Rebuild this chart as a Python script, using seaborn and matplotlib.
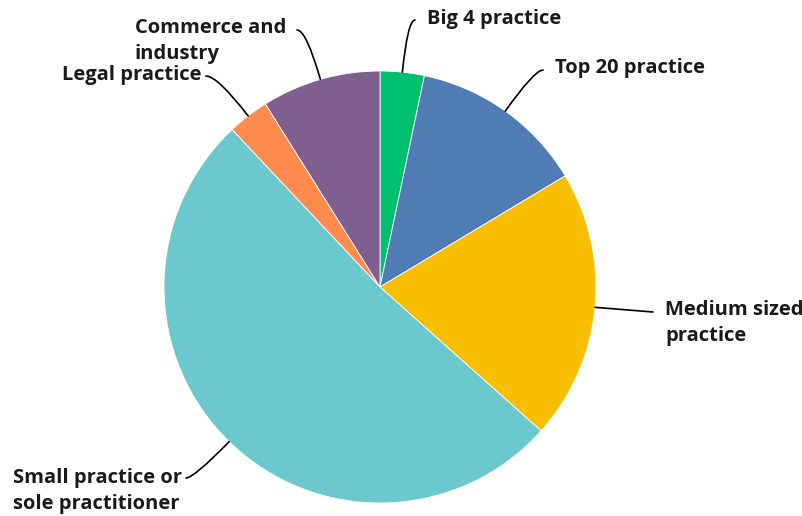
import numpy as np
import matplotlib
matplotlib.use("Agg")
import matplotlib.pyplot as plt
import seaborn as sns

# Share of respondents by place of work (%)
categories = ["Big 4 practice", "Top 20 practice", "Medium sized\npractice",
              "Small practice or\nsole practitioner", "Legal practice",
              "Commerce and\nindustry"]
shares = [3.3, 13.1, 20.2, 51.4, 3.1, 8.9]
colors = ["#00BF6F", "#507CB6", "#F9BE00", "#6BC8CD", "#FF8B4F", "#7F5F90"]

sns.set_theme(style="white")
plt.rcParams["font.family"] = ["Open Sans", "DejaVu Sans"]

W, H = 803, 516
fig = plt.figure(figsize=(W / 100, H / 100), dpi=100)
ax = fig.add_axes([0, 0, 1, 1])

cx, cy, r = 380, H - 287, 216
ax.pie(shares, colors=colors, startangle=90, counterclock=False,
       center=(cx, cy), radius=r, frame=True,
       wedgeprops=dict(edgecolor="white", linewidth=0.6))
ax.set_xlim(0, W)
ax.set_ylim(0, H)
ax.set_aspect("equal")
ax.axis("off")

FS = 14.5
TXT = dict(fontsize=FS, fontweight="bold", color="#1a1a1a", va="center")

# label layout: (line end x, line end y, text x, text y, ha, hooked leader)
layout = [
    (415, 20, 427, 19, "left", True),
    (543, 70, 555, 68, "left", True),
    (653, 312, 665, 310, "left", False),
    (186, 478, 182, 478, "right", True),
    (206, 76, 202, 75, "right", True),
    (297, 30, 286, 28, "right", True),
]

total = sum(shares)
cum = 0.0
for label, val, (lx, ly, tx, ty, ha, hooked) in zip(categories, shares, layout):
    mid = (cum + val / 2) / total
    cum += val
    ang = 90 - 360 * mid
    theta = np.deg2rad(ang)
    px, py = cx + r * np.cos(theta), cy + r * np.sin(theta)
    if hooked:
        cs = f"angle3,angleA=0,angleB={ang % 180:.2f}"
    else:
        cs = "arc3,rad=0.0"
    ax.annotate("", xy=(px, py), xytext=(lx, H - ly),
                arrowprops=dict(arrowstyle="-", color="black", lw=1.2,
                                shrinkA=0, shrinkB=0, connectionstyle=cs))
    lines = label.split("\n")
    t = ax.text(tx, H - ty, lines[0], ha=ha, **TXT)
    if len(lines) > 1:
        fig.canvas.draw()
        bb = t.get_window_extent().transformed(ax.transData.inverted())
        for i, ln in enumerate(lines[1:], start=1):
            ax.text(bb.x0, H - ty - 25.5 * i, ln, ha="left", **TXT)

fig.savefig("out.png", dpi=100)
